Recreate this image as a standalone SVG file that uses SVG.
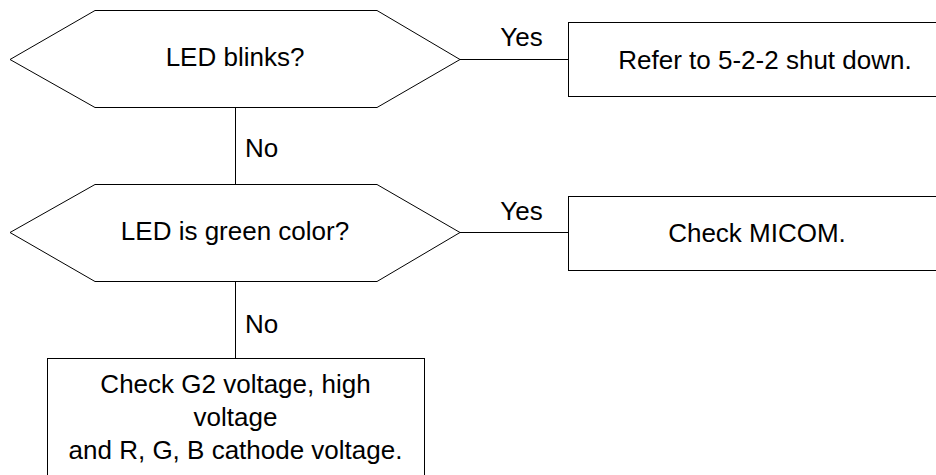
<svg xmlns="http://www.w3.org/2000/svg" width="936" height="475" viewBox="0 0 936 475">
<style>
.shape{fill:#fff;stroke:#000;stroke-width:1}
.conn{fill:none;stroke:#000;stroke-width:1}
text{font-family:"Liberation Sans",Arial,sans-serif;font-size:26px;fill:#000}
.c{text-anchor:middle}
</style>
<rect x="0" y="0" width="936" height="475" fill="#fff"/>
<g id="connectors">
<line class="conn" x1="460" y1="59.5" x2="568" y2="59.5"/>
<line class="conn" x1="235.5" y1="107" x2="235.5" y2="184"/>
<line class="conn" x1="460" y1="232.5" x2="568" y2="232.5"/>
<line class="conn" x1="235.5" y1="281" x2="235.5" y2="358"/>
<text x="521.5" y="45.5" class="c">Yes</text>
<text x="245" y="157">No</text>
<text x="521.5" y="220" class="c">Yes</text>
<text x="245" y="333">No</text>
</g>
<g id="decision1">
<polygon class="shape" points="10,59.5 95,10.5 377,10.5 460,59.5 377,107.5 95,107.5"/>
<text x="235" y="66" class="c">LED blinks?</text>
</g>
<g id="action1">
<rect class="shape" x="568.5" y="22.5" width="394" height="74"/>
<text x="765" y="69" class="c">Refer to 5-2-2 shut down.</text>
</g>
<g id="decision2">
<polygon class="shape" points="10,232.5 95,184.5 377,184.5 460,232.5 377,281.5 95,281.5"/>
<text x="235" y="240" class="c">LED is green color?</text>
</g>
<g id="action2">
<rect class="shape" x="568.5" y="196.5" width="394" height="74"/>
<text x="757" y="242" class="c">Check MICOM.</text>
</g>
<g id="action3">
<rect class="shape" x="47.5" y="358.5" width="377" height="130"/>
<text x="235.5" y="393" class="c">Check G2 voltage, high</text>
<text x="235.5" y="426" class="c">voltage</text>
<text x="235.5" y="459" class="c">and R, G, B cathode voltage.</text>
</g>
</svg>
